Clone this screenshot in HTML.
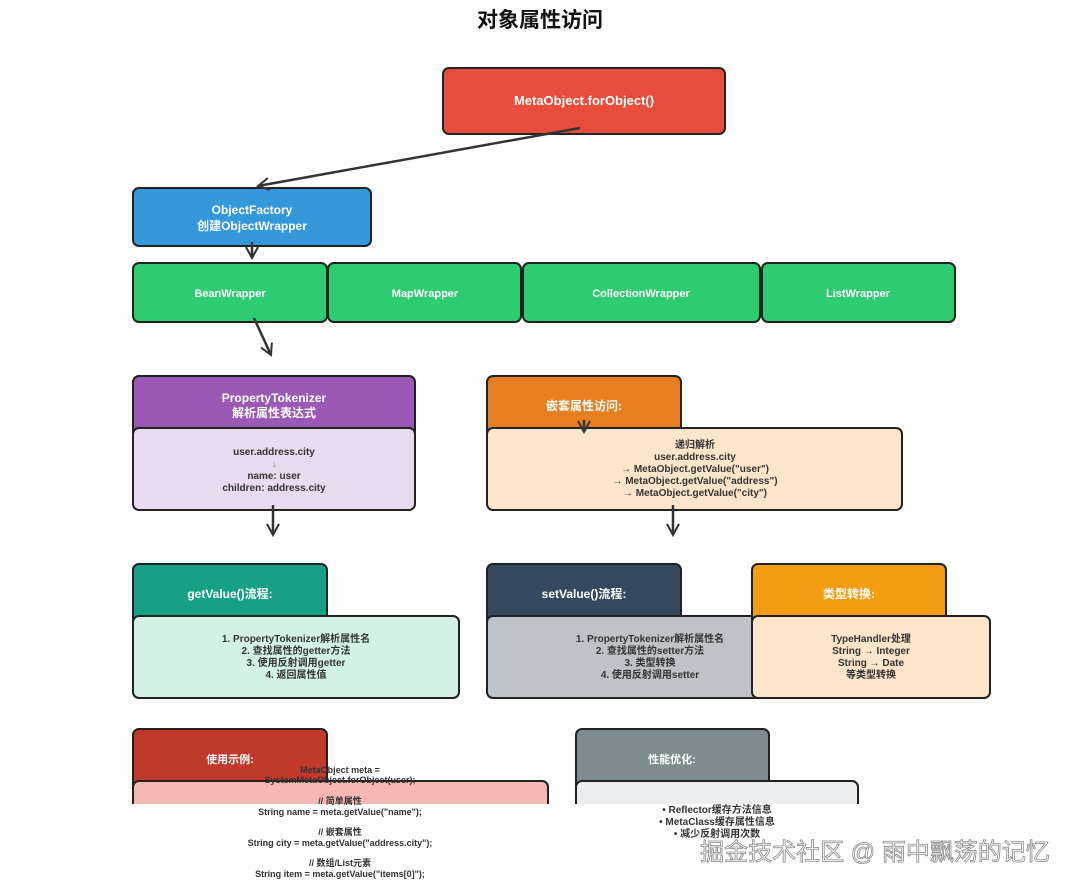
<!DOCTYPE html>
<html><head><meta charset="utf-8"><style>
html,body{margin:0;padding:0;background:#fff;}
svg text{font-family:"Liberation Sans","Noto Sans CJK SC",sans-serif;font-weight:bold;}
</style></head><body>
<svg width="1080" height="889" viewBox="0 0 1080 889" xmlns="http://www.w3.org/2000/svg">
<defs>
<marker id="a" viewBox="0 0 14 14" refX="12" refY="7" markerWidth="14" markerHeight="14" markerUnits="userSpaceOnUse" orient="auto"><path d="M1,1 L12,7 L1,13" fill="none" stroke="#333" stroke-width="2"/></marker>
</defs>
<g stroke="#222" stroke-width="2">
<text x="540" y="27" text-anchor="middle" font-size="21" fill="#111" stroke="none">对象属性访问</text>
<rect x="443" y="68" width="282" height="66" rx="6" fill="#e74c3c"/>
<rect x="133" y="188" width="238" height="58" rx="6" fill="#3498db"/>
<rect x="133" y="263" width="194" height="59" rx="6" fill="#2ecc71"/>
<rect x="328" y="263" width="193" height="59" rx="6" fill="#2ecc71"/>
<rect x="523" y="263" width="237" height="59" rx="6" fill="#2ecc71"/>
<rect x="762" y="263" width="193" height="59" rx="6" fill="#2ecc71"/>
<rect x="133" y="376" width="282" height="64" rx="6" fill="#9b59b6"/>
<rect x="133" y="428" width="282" height="82" rx="6" fill="#e8daef"/>
<rect x="487" y="376" width="194" height="64" rx="6" fill="#e67e22"/>
<rect x="487" y="428" width="415" height="82" rx="6" fill="#fde5cc"/>
<rect x="133" y="564" width="194" height="62" rx="6" fill="#16a085"/>
<rect x="133" y="616" width="326" height="82" rx="6" fill="#d4f1e6"/>
<rect x="487" y="564" width="194" height="62" rx="6" fill="#34495e"/>
<rect x="487" y="616" width="326" height="82" rx="6" fill="#bdc3c7"/>
<rect x="752" y="564" width="194" height="62" rx="6" fill="#f39c12"/>
<rect x="752" y="616" width="238" height="82" rx="6" fill="#fde5cc"/>
<rect x="133" y="729" width="194" height="62" rx="6" fill="#c0392b"/>
<rect x="133" y="781" width="415" height="82" rx="6" fill="#f5b7b1"/>
<rect x="576" y="729" width="193" height="62" rx="6" fill="#7f8c8d"/>
<rect x="576" y="781" width="282" height="82" rx="6" fill="#ebedef"/>
</g>
<rect x="120" y="804" width="760" height="85" fill="#fff"/>
<g stroke="#333" stroke-width="2.5" fill="none" marker-end="url(#a)">
<line x1="580" y1="128" x2="258" y2="186"/>
<line x1="252" y1="242" x2="252" y2="258"/>
<line x1="254" y1="318" x2="271" y2="355"/>
<line x1="273" y1="505" x2="273" y2="535"/>
<line x1="673" y1="505" x2="673" y2="535"/>
<line x1="584" y1="420" x2="584" y2="432"/>
</g>
<g fill="#fff" font-size="13" text-anchor="middle">
<text x="584" y="105">MetaObject.forObject()</text>
<text x="252" y="214" font-size="12">ObjectFactory</text>
<text x="252" y="230" font-size="12">创建ObjectWrapper</text>
<text x="230" y="297" font-size="11">BeanWrapper</text>
<text x="425" y="297" font-size="11">MapWrapper</text>
<text x="641" y="297" font-size="11">CollectionWrapper</text>
<text x="858" y="297" font-size="11">ListWrapper</text>
<text x="274" y="402" font-size="12">PropertyTokenizer</text>
<text x="274" y="417" font-size="12">解析属性表达式</text>
<text x="584" y="410" font-size="12">嵌套属性访问:</text>
<text x="230" y="598" font-size="12">getValue()流程:</text>
<text x="584" y="598" font-size="12">setValue()流程:</text>
<text x="849" y="598" font-size="12">类型转换:</text>
<text x="230" y="763" font-size="11">使用示例:</text>
<text x="672" y="763" font-size="11">性能优化:</text>
</g>
<g fill="#333" font-size="10" text-anchor="middle">
<text x="274" y="455">user.address.city</text>
<text x="274" y="467" fill="#888">↓</text>
<text x="274" y="479">name: user</text>
<text x="274" y="491">children: address.city</text>
<text x="695" y="448">递归解析</text>
<text x="695" y="460">user.address.city</text>
<text x="695" y="472">→ MetaObject.getValue("user")</text>
<text x="695" y="484">→ MetaObject.getValue("address")</text>
<text x="695" y="496">→ MetaObject.getValue("city")</text>
<text x="296" y="642">1. PropertyTokenizer解析属性名</text>
<text x="296" y="654">2. 查找属性的getter方法</text>
<text x="296" y="666">3. 使用反射调用getter</text>
<text x="296" y="678">4. 返回属性值</text>
<text x="650" y="642">1. PropertyTokenizer解析属性名</text>
<text x="650" y="654">2. 查找属性的setter方法</text>
<text x="650" y="666">3. 类型转换</text>
<text x="650" y="678">4. 使用反射调用setter</text>
<text x="871" y="642">TypeHandler处理</text>
<text x="871" y="654">String → Integer</text>
<text x="871" y="666">String → Date</text>
<text x="871" y="678">等类型转换</text>
<text x="340" y="773" font-size="9">MetaObject meta =</text>
<text x="340" y="783" font-size="9">SystemMetaObject.forObject(user);</text>
<text x="340" y="804" font-size="9">// 简单属性</text>
<text x="340" y="815" font-size="9">String name = meta.getValue("name");</text>
<text x="340" y="835" font-size="9">// 嵌套属性</text>
<text x="340" y="846" font-size="9">String city = meta.getValue("address.city");</text>
<text x="340" y="866" font-size="9">// 数组/List元素</text>
<text x="340" y="877" font-size="9">String item = meta.getValue("items[0]");</text>
<text x="717" y="813">• Reflector缓存方法信息</text>
<text x="717" y="825">• MetaClass缓存属性信息</text>
<text x="717" y="837">• 减少反射调用次数</text>
</g>
<text x="875" y="860" text-anchor="middle" font-size="24" fill="#fff" stroke="#888" stroke-width="0.8" style="font-weight:normal">掘金技术社区 @ 雨中飘荡的记忆</text>
</svg>
</body></html>
